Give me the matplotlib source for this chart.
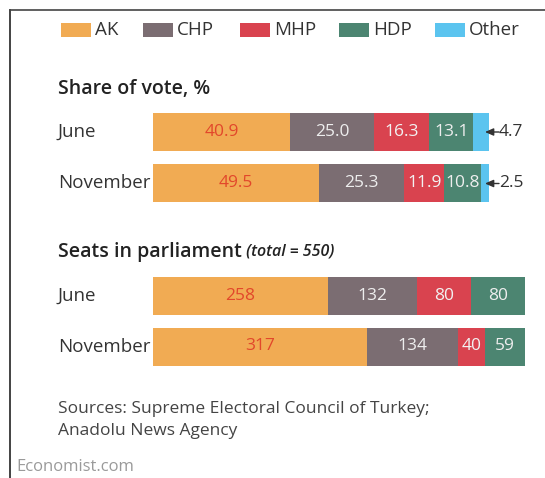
import matplotlib
matplotlib.use("Agg")
import matplotlib.pyplot as plt
import matplotlib.transforms as mtransforms
from matplotlib.lines import Line2D
from matplotlib.patches import Rectangle
import numpy as np

plt.rcParams['font.family'] = ['Open Sans', 'DejaVu Sans']

## data
parties = ["AK", "CHP", "MHP", "HDP", "Other"]
months = ["June", "November"]
vote_share = {
    "AK": [40.9, 49.5],
    "CHP": [25.0, 25.3],
    "MHP": [16.3, 11.9],
    "HDP": [13.1, 10.8],
    "Other": [4.7, 2.5],
}
seats = {
    "AK": [258, 317],
    "CHP": [132, 134],
    "MHP": [80, 40],
    "HDP": [80, 59],
}
total_seats = 550

## styling
colors = {"AK": "#F1AB53", "CHP": "#7B6D72", "MHP": "#D9434F",
          "HDP": "#4C8571", "Other": "#5BC4EF"}
label_colors = {"AK": "#E2472B", "CHP": "#EEEEEE", "MHP": "#F2F2F2",
                "HDP": "#EEEEEE"}
text_color = "#333333"

W, H = 545, 478
fig = plt.figure(figsize=(W / 100, H / 100), dpi=100)


def px_axes(x0, y0, x1, y1):
    ## place an axes using pixel coords measured from the top left
    ax = fig.add_axes([x0 / W, 1 - y1 / H, (x1 - x0) / W, (y1 - y0) / H])
    ax.set_axis_off()
    return ax


def draw_bars(ax, data, xmax, bar_h, fmt):
    left = np.zeros(len(months))
    y = np.arange(len(months))
    for p in parties:
        if p not in data:
            continue
        vals = np.array(data[p], dtype=float)
        ax.barh(y, vals, left=left, height=bar_h, color=colors[p], linewidth=0)
        if p in label_colors:
            for i, v in enumerate(vals):
                ax.text(left[i] + v / 2, y[i], fmt(v), ha="center", va="center",
                        color=label_colors[p], fontsize=12.5)
        left += vals
    ax.set_xlim(0, xmax)
    ax.set_ylim(len(months) - 1 + bar_h / 2, -bar_h / 2)
    ## row labels, left aligned in figure space
    trans = mtransforms.blended_transform_factory(fig.transFigure, ax.transData)
    for i, m in enumerate(months):
        fig.text(58 / W, y[i], m, transform=trans, ha="left", va="center",
                 fontsize=13.5, color=text_color)
    return left


## share of vote
ax1 = px_axes(153, 113, 489, 202.5)
ends = draw_bars(ax1, vote_share, 100, 38 / 51.5, lambda v: f"{v:.1f}")
## small arrows pointing back at the thin "Other" slice
tip = mtransforms.offset_copy(ax1.transData, fig=fig, x=-4, y=0, units="dots")
for i, v in enumerate(vote_share["Other"]):
    ax1.annotate("", xy=(ends[i], i), xycoords=tip, xytext=(14, 0),
                 textcoords="offset pixels", annotation_clip=False,
                 arrowprops=dict(arrowstyle="-|>,head_length=0.5,head_width=0.22",
                                 color=text_color, lw=1.0,
                                 shrinkA=0, shrinkB=0, mutation_scale=10))
    ax1.annotate(f"{v:.1f}", xy=(ends[i], i), xytext=(10, 0),
                 textcoords="offset pixels", ha="left", va="center",
                 fontsize=12.5, color=text_color, annotation_clip=False)

## seats in parliament
ax2 = px_axes(153, 277, 525, 365.5)
draw_bars(ax2, seats, total_seats, 38 / 50.5, lambda v: f"{int(v)}")

## legend drawn by hand so the spacing follows the original
leg_x = [61, 143, 240, 339, 435]
for p, x in zip(parties, leg_x):
    fig.add_artist(Rectangle((x / W, 1 - 37 / H), 30 / W, 14 / H,
                             transform=fig.transFigure, color=colors[p], lw=0))
    fig.text((x + 34) / W, 1 - 30 / H, p, ha="left", va="center",
             fontsize=13.5, color=text_color)

## section titles
fig.text(58 / W, 1 - 89 / H, "Share of vote, %", ha="left", va="center",
         fontsize=14, color="#222222", weight="semibold")
t2 = fig.text(58 / W, 1 - 252 / H, "Seats in parliament", ha="left",
              va="center", fontsize=14, color="#222222", weight="semibold")
ax2.annotate(" (total = 550)", xy=(1, 0.5), xycoords=t2, ha="left", va="center",
             fontsize=11.5, style="italic", color="#222222", weight="semibold")

## sources and credit
fig.text(58 / W, 1 - 409 / H, "Sources: Supreme Electoral Council of Turkey;",
         ha="left", va="center", fontsize=12.5, color="#444444")
fig.text(58 / W, 1 - 431 / H, "Anadolu News Agency",
         ha="left", va="center", fontsize=12.5, color="#444444")
fig.text(16 / W, 1 - 467 / H, "Economist.com", ha="left", va="center",
         fontsize=12, color="#9A9A9A")

## frame on the top and left
fig.add_artist(Line2D([10 / W, 10 / W], [0, 1 - 10 / H], transform=fig.transFigure,
                      color="#222222", lw=1.2))
fig.add_artist(Line2D([10 / W, 1], [1 - 10 / H, 1 - 10 / H], transform=fig.transFigure,
                      color="#444444", lw=1.2))

fig.savefig("out.png", dpi=100)
